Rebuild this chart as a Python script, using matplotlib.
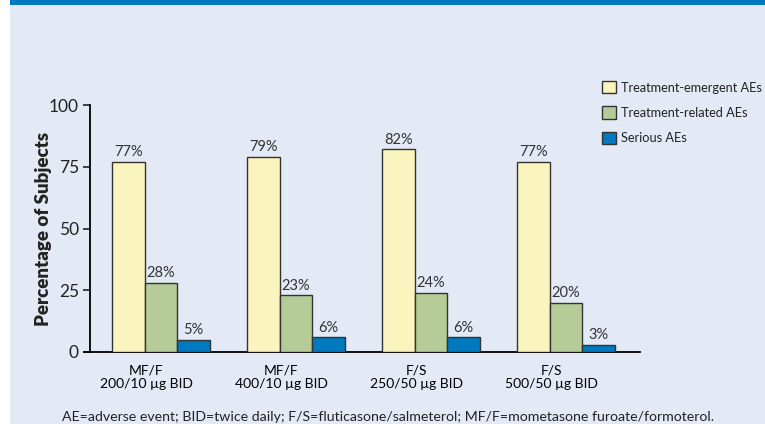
import matplotlib.pyplot as plt
import matplotlib.patches as mpatches
import numpy as np

plt.rcParams['font.family'] = ['Lato', 'DejaVu Sans']

# data
groups = ["MF/F\n200/10 µg BID", "MF/F\n400/10 µg BID", "F/S\n250/50 µg BID", "F/S\n500/50 µg BID"]
series = ["Treatment-emergent AEs", "Treatment-related AEs", "Serious AEs"]
emergent = [77, 79, 82, 77]
related = [28, 23, 24, 20]
serious = [5, 6, 6, 3]
colors = ["#FAF5BE", "#B5CC98", "#0079C1"]
footnote = "AE=adverse event; BID=twice daily; F/S=fluticasone/salmeterol; MF/F=mometasone furoate/formoterol."

W, H = 765, 424
fig = plt.figure(figsize=(W / 100, H / 100), dpi=100)
fig.patch.set_facecolor("white")

# light panel + blue strip at top
fig.patches.append(mpatches.Rectangle((10 / W, 0), 1, 1, transform=fig.transFigure,
                                      facecolor="#E3EAF6", edgecolor="none", zorder=-2))
fig.patches.append(mpatches.Rectangle((10 / W, 1 - 5 / H), 1, 5 / H, transform=fig.transFigure,
                                      facecolor="#0079C1", edgecolor="none", zorder=-1))

ax = fig.add_axes([90 / W, 72 / H, 550 / W, 247 / H])
ax.set_facecolor("none")
ax.set_zorder(5)

x = np.arange(len(groups))
bw = 0.24
for i, (vals, c, name) in enumerate(zip([emergent, related, serious], colors, series)):
    bars = ax.bar(x + (i - 1) * bw, vals, bw, color=c, edgecolor="#333333", linewidth=1, label=name, zorder=3)
    for b, v in zip(bars, vals):
        ax.text(b.get_x() + b.get_width() / 2, v + 1, f"{v}%", ha="center", va="bottom",
                fontsize=10.5, color="#333333")

ax.set_xlim(-0.526, 3.548)
ax.set_ylim(0, 100)
ax.set_yticks([0, 25, 50, 75, 100])
ax.tick_params(axis="y", direction="out", length=5, width=1.2, labelsize=12.5, colors="#222222", pad=3)
ax.set_xticks(x - 0.11)
ax.set_xticklabels(groups, fontsize=12.5, color="#222222", linespacing=1.1)
ax.tick_params(axis="x", length=0, pad=9)
for s in ["top", "right"]:
    ax.spines[s].set_visible(False)
ax.spines["left"].set_linewidth(1.3)
ax.spines["bottom"].set_linewidth(1.3)
ax.spines["bottom"].set_bounds(-0.57, 3.548)
ax.spines["bottom"].set_position(("data", 0))
ax.set_ylabel("Percentage of Subjects", fontsize=13.5, fontweight="heavy", color="#222222")
ax.yaxis.set_label_coords(-38 / 550, 0.5)

leg = ax.legend(loc="upper left", bbox_to_anchor=(597 / W, 1 - 76 / H), bbox_transform=fig.transFigure,
                frameon=False, fontsize=9.2, handlelength=1.1, handleheight=1.1, handletextpad=0.4,
                labelspacing=1.0, borderaxespad=0)
for t in leg.get_texts():
    t.set_color("#222222")

fig.text(388 / W, 1 / H, footnote, ha="center", va="bottom", fontsize=10.2, color="#222222")

fig.savefig("out.png", dpi=100)
